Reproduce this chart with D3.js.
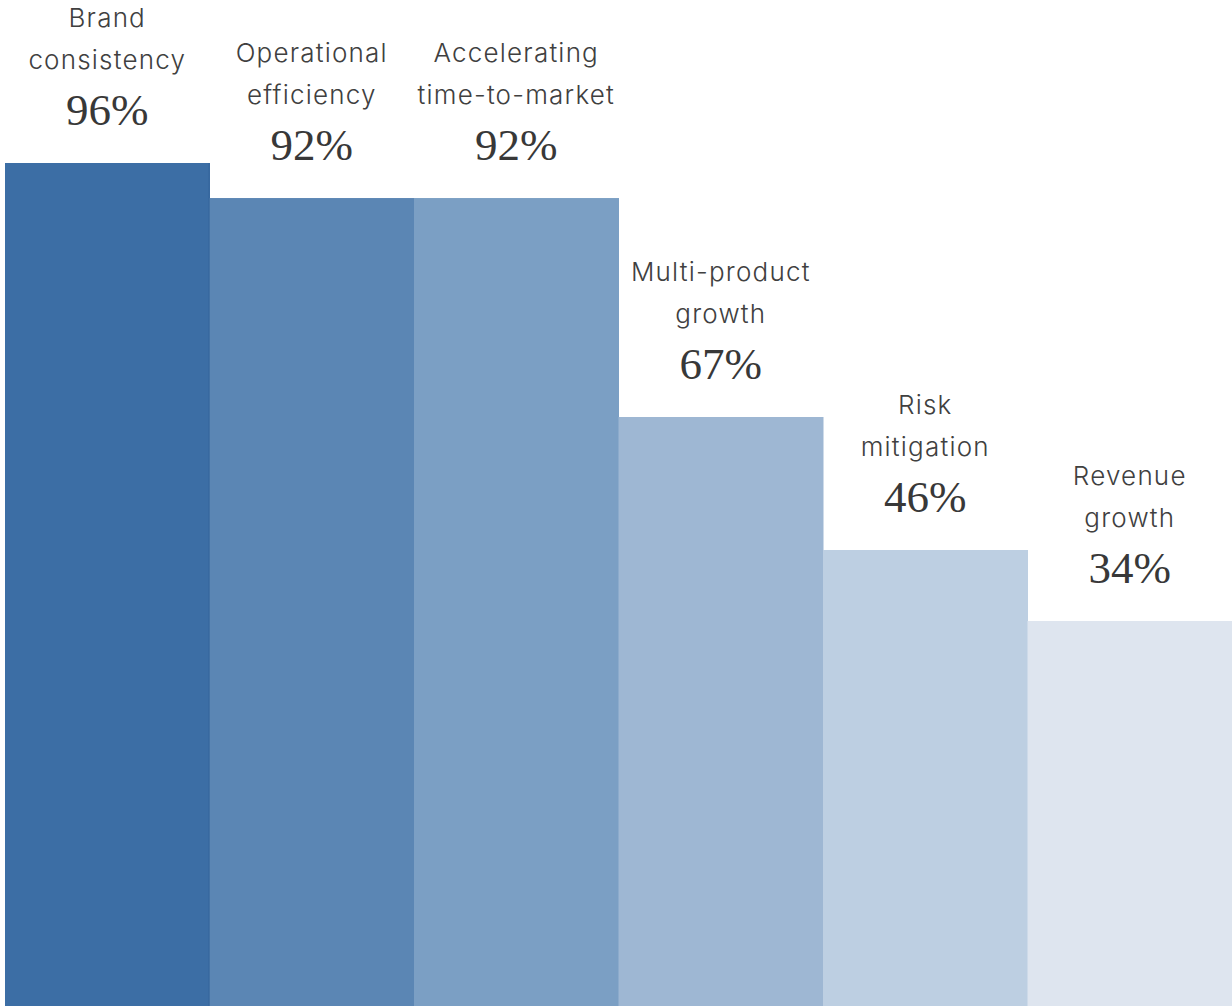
<!DOCTYPE html>
<html>
<head>
<meta charset="utf-8">
<script src="https://cdn.jsdelivr.net/npm/d3@7"></script>
<style>
  html, body { margin: 0; padding: 0; background: #fff; }
  svg { display: block; }
</style>
</head>
<body>
<svg id="chart"></svg>
<script>
const width = 1232
const height = 1006

// data
const labels = [
  ['Brand', 'consistency'],
  ['Operational', 'efficiency'],
  ['Accelerating', 'time-to-market'],
  ['Multi-product', 'growth'],
  ['Risk', 'mitigation'],
  ['Revenue', 'growth'],
]
const values = [96, 92, 92, 67, 46, 34]
const colors = ['#3c6ea5', '#5b86b4', '#7b9fc4', '#9eb7d3', '#bdcfe2', '#dee5ef']

const svg = d3
  .select('#chart')
  .attr('width', width)
  .attr('height', height)
  .attr('viewBox', [0, 0, width, height])

// bands across the full width
const x = d3
  .scaleBand()
  .domain(d3.range(values.length))
  .range([5, width])
  .padding(0)

// the original heights are not proportional, so use a stepped linear scale
const y = d3
  .scaleLinear()
  .domain([0, 34, 46, 67, 96])
  .range([height, height - 385, height - 456, height - 589, height - 843])

// --------------------------------------------------------------
// bars
svg
  .append('g')
  .attr('class', 'bars')
  .selectAll('rect')
  .data(values)
  .join('rect')
  .attr('x', (d, i) => x(i))
  .attr('y', (d) => y(d))
  .attr('width', x.bandwidth() + 0.5)
  .attr('height', (d) => height - y(d))
  .attr('fill', (d, i) => colors[i])

// thin darker edge on the first bar
svg
  .append('line')
  .attr('x1', x(0) + x.bandwidth() - 0.5)
  .attr('x2', x(0) + x.bandwidth() - 0.5)
  .attr('y1', y(values[0]))
  .attr('y2', height)
  .attr('stroke', '#2f5f94')
  .attr('stroke-width', 1)
  .attr('stroke-opacity', 0.6)

// --------------------------------------------------------------
// labels
const labelGroups = svg
  .append('g')
  .attr('class', 'labels')
  .selectAll('g')
  .data(values)
  .join('g')
  .attr('transform', (d, i) => `translate(${x(i) + x.bandwidth() / 2},${y(d)})`)

labelGroups
  .append('text')
  .attr('text-anchor', 'middle')
  .attr('y', -38)
  .attr('font-family', '"Liberation Serif", serif')
  .attr('font-size', 45)
  .attr('fill', '#383838')
  .text((d) => d + '%')

labelGroups.each(function (d, i) {
  const g = d3.select(this)
  labels[i].forEach((line, j) => {
    g.append('text')
      .attr('text-anchor', 'middle')
      .attr('y', -94 - (labels[i].length - 1 - j) * 42)
      .attr('font-family', 'Inter, sans-serif')
      .attr('font-weight', 300)
      .attr('font-size', 26)
      .attr('letter-spacing', 1.2)
      .attr('fill', '#404040')
      .text(line)
  })
})
</script>
</body>
</html>
